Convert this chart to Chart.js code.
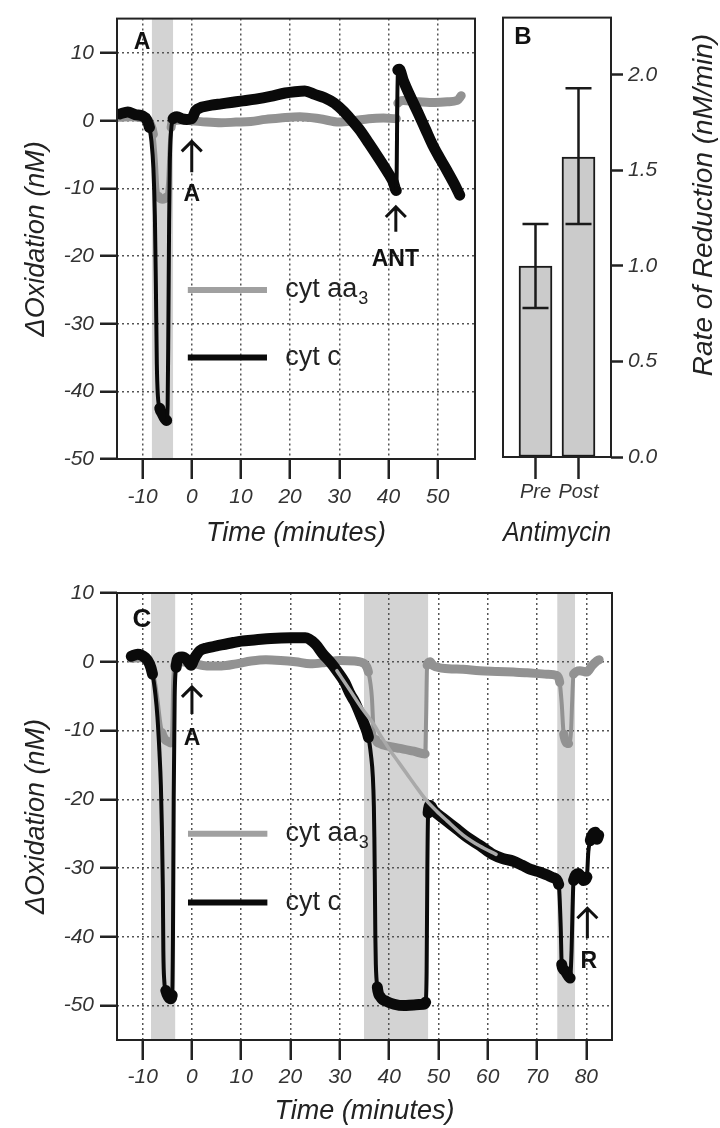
<!DOCTYPE html>
<html>
<head>
<meta charset="utf-8">
<script src="https://cdn.jsdelivr.net/npm/chart.js@4.4.1/dist/chart.umd.min.js"></script>
<style>
html,body{margin:0;padding:0;background:#fff;}
#wrap{position:relative;width:720px;height:1128px;overflow:hidden;background:#fff;}
#wrap canvas{position:absolute;}
</style>
</head>
<body>
<div id="wrap">
<canvas id="cA" width="480" height="560" style="left:0px;top:0px"></canvas>
<canvas id="cB" width="240" height="560" style="left:480px;top:0px"></canvas>
<canvas id="cC" width="720" height="568" style="left:0px;top:560px"></canvas>
</div>
<script>
// ---------------- DATA ----------------
// Panel A: time (minutes) and ΔOxidation (nM)
const timeA_cytc = [-14.6, -13, -11.5, -10, -9.2, -8.6, -8.2, -7.8, -7.5, -7.3, -7.1, -6.9, -6.5, -6.0, -5.5, -5.1, -4.9, -4.75, -4.6, -4.45, -4.2, -3.8, -3.0, -2.0, -1.0, 0, 0.8, 2, 4, 6, 8, 10, 13, 16, 19, 21, 23, 25, 27, 29, 31, 32, 34, 36, 38, 40, 41, 41.6, 41.9, 42.2, 43, 44.5, 46, 47.5, 49, 50.5, 52, 53.5, 54.5];
const cytcA = [1.0, 1.3, 0.9, 0.7, 0.2, -1.0, -3.0, -7.0, -14.0, -24.0, -36.0, -40.5, -42.5, -43.3, -44.0, -44.3, -42.0, -30.0, -15.0, -6.0, -1.5, 0.3, 0.6, 0.3, 0.2, 0.3, 1.5, 2.0, 2.3, 2.5, 2.7, 2.9, 3.2, 3.6, 4.1, 4.3, 4.4, 3.9, 3.4, 2.6, 1.3, 0.5, -1.2, -3.3, -5.5, -7.8, -9.1, -10.3, 7.5, 7.6, 6.0, 3.5, 1.2, -1.2, -3.6, -5.6, -7.5, -9.5, -11.0];
const timeA_aa3 = [-14.6, -12, -10, -9, -8.4, -7.8, -7.3, -7.0, -6.7, -6.0, -5.2, -4.8, -4.5, -4.2, -3.8, -2, 0, 3, 6, 9, 12, 15, 18, 22, 26, 30, 33, 36, 39, 41.6, 41.9, 43, 46, 49, 52, 54, 54.8];
const aa3A = [0.5, 0.6, 0.4, 0.2, -0.5, -2.0, -6.0, -10.0, -11.2, -11.6, -11.3, -9.0, -4.0, -1.0, 0.0, 0.1, 0.0, -0.2, -0.3, -0.2, -0.1, 0.2, 0.4, 0.6, 0.3, -0.2, 0.0, 0.3, 0.4, 0.3, 2.6, 3.0, 2.8, 2.7, 2.8, 3.0, 3.7];
const shadeStartA = [-8.1];
const shadeEndA = [-3.8];

// Panel B: rate of reduction (nM/min)
const categoriesB = ['Pre', 'Post'];
const ratesB = [1.0, 1.57];
const errLowB = [0.78, 1.22];
const errHighB = [1.22, 1.93];

// Panel C
const timeC_cytc = [-12.3, -11, -9.5, -8.6, -8.0, -7.4, -7.0, -6.6, -6.3, -6.1, -5.9, -5.8, -5.6, -5.3, -4.8, -4.3, -4.0, -3.85, -3.7, -3.5, -3.2, -2.7, -2.0, -1.0, -0.2, 0.5, 1.6, 3, 5, 8.4, 10, 13, 16, 20, 23, 25, 26.6, 28, 29.4, 31, 32.1, 33, 34.1, 35, 35.8, 36.3, 36.7, 36.9, 37.0, 37.1, 37.2, 37.3, 37.6, 38.3, 39.5, 41, 43, 45, 47, 47.4, 47.6, 47.75, 47.9, 48.3, 49, 51, 53.7, 56, 58.4, 61, 63, 65.2, 67, 68.7, 70.6, 72, 73.3, 74.4, 74.8, 75.0, 75.5, 76.0, 76.7, 77.0, 77.2, 77.4, 78.4, 79.4, 80.1, 80.4, 80.8, 81.1, 81.8, 82.2, 82.5];
const cytcC = [0.8, 1.1, 0.6, -0.3, -1.8, -4.8, -8.0, -13.0, -18.0, -24.0, -33.0, -42.0, -46.5, -47.8, -48.7, -49.0, -48.5, -40.0, -20.0, -5.0, -0.8, 0.6, 0.7, 0.3, -0.5, 0.5, 1.6, 2.0, 2.3, 2.8, 3.0, 3.2, 3.4, 3.5, 3.5, 2.6, 1.1, 0.0, -1.3, -3.0, -4.7, -5.8, -7.6, -9.2, -11.0, -13.5, -16.8, -21.0, -25.5, -32.0, -40.0, -44.0, -47.3, -48.8, -49.4, -49.8, -50.0, -49.9, -49.8, -49.5, -45.0, -30.0, -22.0, -20.9, -21.6, -22.8, -24.3, -25.6, -26.7, -28.0, -28.6, -29.0, -29.6, -30.2, -30.6, -31.0, -31.4, -32.4, -38.6, -44.0, -44.8, -45.3, -46.0, -42.0, -36.0, -31.8, -30.8, -31.8, -31.3, -27.6, -26.0, -25.3, -24.8, -25.8, -25.2];
const timeC_aa3 = [-12.3, -10, -8.8, -8.2, -7.5, -7.0, -6.5, -6.1, -5.5, -4.8, -4.3, -4.0, -3.8, -3.5, -2.5, 0, 3, 6, 9, 12, 15, 18, 21, 24, 27, 30, 33, 35, 35.8, 36.5, 36.8, 37.3, 38.1, 40, 42.2, 45, 47.3, 47.5, 47.7, 48.3, 49, 52, 55, 58.4, 62, 65.2, 68, 72, 74, 74.6, 75.0, 75.4, 76.4, 76.9, 77.1, 77.4, 78.7, 80.1, 81.1, 82.1, 82.6];
const aa3C = [0.5, 0.6, 0.0, -0.9, -3.0, -5.5, -8.5, -10.3, -11.3, -11.6, -11.8, -10.0, -3.0, -0.5, 0.0, -0.2, -0.6, -0.6, -0.3, 0.1, 0.3, 0.2, 0.0, -0.3, -0.1, 0.2, 0.1, -0.3, -1.5, -5.2, -9.5, -11.3, -11.9, -12.3, -12.6, -13.0, -13.4, -8.0, -0.5, 0.0, -0.6, -1.0, -1.1, -1.3, -1.4, -1.5, -1.6, -1.8, -2.0, -3.0, -6.1, -10.5, -11.9, -10.0, -6.1, -1.8, -1.3, -1.5, -0.6, 0.1, 0.3];
const timeC_fit = [29.4, 32.1, 34.5, 36.8, 38.5, 40.2, 42, 43.6, 45.6, 47.6, 49.6, 51.7, 55, 58.4, 61.7];
const fitC = [-1.3, -4.2, -6.8, -9.0, -11.0, -12.9, -14.7, -16.3, -18.3, -20.2, -21.7, -23.1, -25.2, -26.8, -28.0];
const shadeStartC = [-8.3, 34.9, 74.1];
const shadeEndC = [-3.4, 47.9, 77.7];

// ---------------- STYLE / HELPERS ----------------
const FONT = '"Liberation Sans", Arial, Helvetica, sans-serif';
Chart.defaults.font.family = FONT;
const BLACK = '#0a0a0a', GRAY = '#929292', FITGRAY = '#a9a9a9', SHADE = '#d3d3d3';

function zip(xs, ys) { return xs.map((x, i) => ({x: x, y: ys[i]})); }
function segWidth(thick, thin) {
  return c => {
    const dx = Math.abs(c.p1.x - c.p0.x), dy = Math.abs(c.p1.y - c.p0.y);
    return dy > 4 * dx ? thin : thick;
  };
}

function panelPlugin(cfg) {
  return {
    id: 'panel' + cfg.letter,
    beforeDraw(chart) {
      const {ctx, chartArea: a, scales: {x}} = chart;
      ctx.save();
      ctx.fillStyle = SHADE;
      cfg.shadeStart.forEach((s, i) => {
        const x1 = x.getPixelForValue(s), x2 = x.getPixelForValue(cfg.shadeEnd[i]);
        ctx.fillRect(x1, a.top, x2 - x1, a.bottom - a.top);
      });
      ctx.restore();
    },
    afterDraw(chart) {
      const {ctx, chartArea: a, scales: {x, y}} = chart;
      ctx.save();
      // frame
      ctx.strokeStyle = '#222'; ctx.lineWidth = 2;
      ctx.strokeRect(a.left, a.top, a.right - a.left, a.bottom - a.top);
      // legend
      const lx1 = x.getPixelForValue(-0.8), lx2 = x.getPixelForValue(15.3), tx = x.getPixelForValue(19);
      const ly1 = y.getPixelForValue(-25), ly2 = y.getPixelForValue(-35);
      ctx.lineWidth = 6; ctx.lineCap = 'butt';
      ctx.strokeStyle = '#a0a0a0'; ctx.beginPath(); ctx.moveTo(lx1, ly1); ctx.lineTo(lx2, ly1); ctx.stroke();
      ctx.strokeStyle = BLACK; ctx.beginPath(); ctx.moveTo(lx1, ly2); ctx.lineTo(lx2, ly2); ctx.stroke();
      ctx.fillStyle = '#222'; ctx.textAlign = 'left'; ctx.textBaseline = 'middle';
      ctx.font = '27px ' + FONT;
      ctx.fillText('cyt aa', tx, ly1);
      const w = ctx.measureText('cyt aa').width;
      ctx.font = '18px ' + FONT;
      ctx.fillText('3', tx + w + 1, ly1 + 9);
      ctx.font = '27px ' + FONT;
      ctx.fillText('cyt c', tx, ly2);
      // arrows
      cfg.arrows.forEach(ar => {
        const px = x.getPixelForValue(ar.t);
        const yt = y.getPixelForValue(ar.top), yb = y.getPixelForValue(ar.bottom);
        ctx.strokeStyle = '#111'; ctx.lineWidth = 3; ctx.lineCap = 'butt'; ctx.lineJoin = 'miter';
        ctx.beginPath();
        ctx.moveTo(px, yb); ctx.lineTo(px, yt + 1);
        ctx.moveTo(px - 10, yt + 11); ctx.lineTo(px, yt + 1); ctx.lineTo(px + 10, yt + 11);
        ctx.stroke();
        ctx.fillStyle = '#111'; ctx.font = 'bold 23px ' + FONT;
        ctx.textAlign = 'center'; ctx.textBaseline = 'middle';
        ctx.fillText(ar.label, x.getPixelForValue(ar.labelT), y.getPixelForValue(ar.labelV));
      });
      // panel letter
      ctx.fillStyle = '#111'; ctx.font = 'bold ' + cfg.letterSize + 'px ' + FONT;
      ctx.textAlign = 'center'; ctx.textBaseline = 'middle';
      ctx.fillText(cfg.letter, a.left + cfg.letterDx, a.top + cfg.letterDy);
      ctx.restore();
    }
  };
}

function lineScales(xr, yr, xAxisH, xPad, titlePadB) {
  const tickFont = {size: 21, style: 'italic', family: FONT};
  const titleFont = {size: 27, style: 'italic', family: FONT};
  const grid = {color: '#555', lineWidth: 1.5, tickLength: 0, tickColor: '#222', tickWidth: 2.5, tickBorderDash: []};
  return {
    x: {
      type: 'linear', position: 'bottom', min: xr[0], max: xr[1],
      afterFit: s => { s.height = xAxisH; },
      ticks: {stepSize: 10, includeBounds: false, padding: xPad, color: '#333', font: tickFont, maxRotation: 0},
      grid: Object.assign({}, grid, {tickLength: 20}),
      border: {display: false, dash: [2, 3]},
      title: {display: true, text: 'Time (minutes)', color: '#222', font: titleFont, padding: {top: 0, bottom: titlePadB}}
    },
    y: {
      type: 'linear', position: 'left', min: yr[0], max: yr[1],
      afterFit: s => { s.width = 117; },
      ticks: {stepSize: 10, includeBounds: false, padding: 6, color: '#333', font: tickFont},
      grid: Object.assign({}, grid, {tickLength: 17}),
      border: {display: false, dash: [2, 3]},
      title: {display: true, text: 'ΔOxidation (nM)', color: '#222', font: titleFont, padding: {top: 20, bottom: 0}}
    }
  };
}

const commonLine = {
  responsive: false, animation: false, events: [],
  plugins: {legend: {display: false}, tooltip: {enabled: false}},
  elements: {point: {radius: 0}, line: {borderJoinStyle: 'round', borderCapStyle: 'round', cubicInterpolationMode: 'monotone'}}
};

// ---------------- PANEL A ----------------
new Chart(document.getElementById('cA'), {
  type: 'line',
  data: {datasets: [
    {label: 'cyt c', data: zip(timeA_cytc, cytcA), borderColor: BLACK, borderWidth: 11, segment: {borderWidth: segWidth(11, 4)}, order: 1},
    {label: 'cyt aa3', data: zip(timeA_aa3, aa3A), borderColor: GRAY, borderWidth: 9, segment: {borderWidth: segWidth(9, 4)}, order: 2}
  ]},
  options: Object.assign({}, commonLine, {
    layout: {padding: {top: 11, right: 5, left: 0, bottom: 0}},
    scales: lineScales([-15.2, 57.6], [-50, 15.1], 101, 6, 10)
  }),
  plugins: [panelPlugin({
    letter: 'A', letterSize: 23, letterDx: 25, letterDy: 24,
    shadeStart: shadeStartA, shadeEnd: shadeEndA,
    arrows: [
      {label: 'A', t: 0, top: -2.9, bottom: -7.6, labelT: 0, labelV: -10.9},
      {label: 'ANT', t: 41.5, top: -12.6, bottom: -16.4, labelT: 41.4, labelV: -20.6}
    ]
  })]
});

// ---------------- PANEL B ----------------
new Chart(document.getElementById('cB'), {
  type: 'bar',
  data: {datasets: [{
    label: 'Rate of Reduction',
    data: categoriesB.map((c, i) => ({x: i + 1, y: ratesB[i]})),
    backgroundColor: '#cbcbcb', borderColor: '#1a1a1a', borderWidth: 2, borderSkipped: false, barThickness: 33
  }]},
  options: {
    responsive: false, animation: false, events: [],
    plugins: {legend: {display: false}, tooltip: {enabled: false}},
    layout: {padding: {top: 11, left: 23, right: 0, bottom: 0}},
    scales: {
      x: {
        type: 'linear', min: 0.244, max: 2.756, offset: false,
        afterFit: s => { s.height = 103; },
        ticks: {stepSize: 1, includeBounds: false, padding: 1, color: '#333', font: {size: 20, style: 'italic'},
          callback: v => categoriesB[Math.round(v) - 1] || ''},
        grid: {offset: false, drawOnChartArea: false, tickLength: 22, tickColor: '#222', tickWidth: 2.5},
        border: {display: false},
        title: {display: true, text: 'Antimycin', color: '#222', font: {size: 27, style: 'italic'}, padding: {top: 0, bottom: 10}}
      },
      y: {
        position: 'right', min: 0, max: 2.3,
        afterFit: s => { s.width = 109; },
        ticks: {stepSize: 0.5, includeBounds: false, padding: 5, color: '#333', font: {size: 21, style: 'italic'},
          callback: v => Number(v).toFixed(1)},
        grid: {drawOnChartArea: false, tickLength: 12, tickColor: '#222', tickWidth: 2.5},
        border: {display: false}
      }
    }
  },
  plugins: [{
    id: 'panelB',
    afterDraw(chart) {
      const {ctx, chartArea: a, scales: {x, y}} = chart;
      ctx.save();
      // error bars
      ctx.strokeStyle = '#1a1a1a'; ctx.lineWidth = 2.5;
      categoriesB.forEach((c, i) => {
        const px = x.getPixelForValue(i + 1);
        const yl = y.getPixelForValue(errLowB[i]), yh = y.getPixelForValue(errHighB[i]);
        ctx.beginPath();
        ctx.moveTo(px, yl); ctx.lineTo(px, yh);
        ctx.moveTo(px - 13, yl); ctx.lineTo(px + 13, yl);
        ctx.moveTo(px - 13, yh); ctx.lineTo(px + 13, yh);
        ctx.stroke();
      });
      // frame
      ctx.strokeStyle = '#222'; ctx.lineWidth = 2;
      ctx.strokeRect(a.left, a.top, a.right - a.left, a.bottom - a.top);
      // right axis title (reads bottom to top)
      ctx.translate(224, 205); ctx.rotate(-Math.PI / 2);
      ctx.fillStyle = '#222'; ctx.font = 'italic 28px ' + FONT;
      ctx.textAlign = 'center'; ctx.textBaseline = 'middle';
      ctx.fillText('Rate of Reduction (nM/min)', 0, 0);
      ctx.setTransform(1, 0, 0, 1, 0, 0);
      // letter
      ctx.fillStyle = '#111'; ctx.font = 'bold 24px ' + FONT;
      ctx.textAlign = 'center'; ctx.textBaseline = 'middle';
      ctx.fillText('B', a.left + 20, a.top + 20);
      ctx.restore();
    }
  }]
});

// ---------------- PANEL C ----------------
new Chart(document.getElementById('cC'), {
  type: 'line',
  data: {datasets: [
    {label: 'fit', data: zip(timeC_fit, fitC), borderColor: FITGRAY, borderWidth: 3.5, order: 0},
    {label: 'cyt c', data: zip(timeC_cytc, cytcC), borderColor: BLACK, borderWidth: 11, segment: {borderWidth: segWidth(11, 4)}, order: 1},
    {label: 'cyt aa3', data: zip(timeC_aa3, aa3C), borderColor: GRAY, borderWidth: 9, segment: {borderWidth: segWidth(9, 4)}, order: 2}
  ]},
  options: Object.assign({}, commonLine, {
    layout: {padding: {top: 33, right: 108, left: 0, bottom: 0}},
    scales: lineScales([-15.2, 85.2], [-55, 10], 88, 5, 0)
  }),
  plugins: [panelPlugin({
    letter: 'C', letterSize: 26, letterDx: 25, letterDy: 27,
    shadeStart: shadeStartC, shadeEnd: shadeEndC,
    arrows: [
      {label: 'A', t: 0, top: -3.5, bottom: -7.6, labelT: 0, labelV: -11.2},
      {label: 'R', t: 80.2, top: -35.7, bottom: -40.2, labelT: 80.5, labelV: -43.6}
    ]
  })]
});
</script>
</body>
</html>
